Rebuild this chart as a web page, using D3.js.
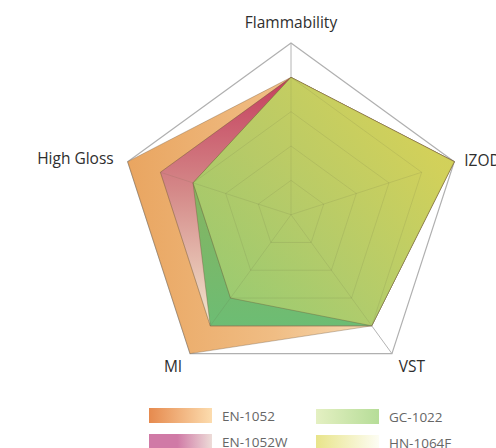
<!doctype html>
<html lang="en">
<head>
<meta charset="utf-8">
<title>radar</title>
<script src="https://cdnjs.cloudflare.com/ajax/libs/d3/7.8.5/d3.min.js"></script>
<style>
  html, body { margin: 0; padding: 0; background: #fff; }
  svg { display: block; font-family: "Open Sans", "DejaVu Sans", sans-serif; }
</style>
</head>
<body>
<svg id="chart" width="496" height="448"></svg>
<script>
// axes, clockwise from the top
const axes = ["Flammability", "IZOD", "VST", "MI", "High Gloss"];
const seriesNames = ["EN-1052", "EN-1052W", "GC-1022", "HN-1064F"];
const en1052  = [4, 5, 4, 5, 5];
const en1052w = [4, 5, 4, 4, 4];
const gc1022  = [4, 5, 4, 4, 3];
const hn1064f = [4, 5, 4, 3, 3];
const levels = [1, 2, 3, 4, 5];

const seriesValues = [en1052, en1052w, gc1022, hn1064f];

const cx = 291, cy = 214.7, R = 171.7;
const svg = d3.select("#chart");
const defs = svg.append("defs");

const r = d3.scaleLinear().domain([0, 5]).range([0, R]);
const angle = d3.scalePoint().domain(d3.range(axes.length + 1)).range([0, 2 * Math.PI]);

const radial = d3.lineRadial()
    .angle((d, i) => angle(i))
    .radius(d => r(d))
    .curve(d3.curveLinearClosed);

function pt(i, v) {
    const a = angle(i) - Math.PI / 2;
    return [cx + r(v) * Math.cos(a), cy + r(v) * Math.sin(a)];
}

// gradients for the areas (user space, relative to the centre)
function grad(id, x1, y1, x2, y2, stops) {
    const g = defs.append("linearGradient").attr("id", id)
        .attr("gradientUnits", "userSpaceOnUse")
        .attr("x1", x1).attr("y1", y1).attr("x2", x2).attr("y2", y2);
    stops.forEach(s => g.append("stop").attr("offset", s[0])
        .attr("stop-color", s[1]).attr("stop-opacity", s[2] == null ? 1 : s[2]));
}
grad("fillA", -165, 0, 105, 0, [[0, "#e9a560"], [0.55, "#f0bd84"], [1, "#fae2bf"]]);
grad("fillB", 0, -140, 0, 115, [[0, "#c43c5c"], [0.45, "#d48888"], [1, "#f3ead0"]]);
grad("fillC", 0, -60, 0, 115, [[0, "#8cb25c"], [1, "#6cbd74"]]);
grad("fillD", 140, -60, -90, 110, [[0, "#d8d35a", 0.92], [0.5, "#c2d06a", 0.8], [1, "#acd474", 0.6]]);

// legend gradients
function lgrad(id, c1, c2, mid) {
    const g = defs.append("linearGradient").attr("id", id);
    g.append("stop").attr("offset", 0).attr("stop-color", c1);
    if (mid) g.append("stop").attr("offset", mid).attr("stop-color", c1);
    g.append("stop").attr("offset", 1).attr("stop-color", c2);
}
lgrad("legA", "#e68a4e", "#fcdcae");
lgrad("legB", "#d07aa6", "#eddcd8", 0.45);
lgrad("legC", "#e4f0c2", "#b6dd98");
lgrad("legD", "#e8e48a", "#fdfdf4");

const fills = ["url(#fillA)", "url(#fillB)", "url(#fillC)", "url(#fillD)"];
const legFills = ["url(#legA)", "url(#legB)", "url(#legC)", "url(#legD)"];

const g = svg.append("g").attr("transform", `translate(${cx},${cy})`);

// spokes and outer ring under the areas
g.append("g").selectAll("line").data(axes).join("line")
    .attr("x1", 0).attr("y1", 0)
    .attr("x2", (d, i) => pt(i, 5)[0] - cx)
    .attr("y2", (d, i) => pt(i, 5)[1] - cy)
    .attr("stroke", "#b4b4b4").attr("stroke-width", 1);

g.append("path")
    .attr("d", radial(axes.map(() => 5)))
    .attr("fill", "none").attr("stroke", "#b0b0b0").attr("stroke-width", 1.2);

// areas
g.append("g").selectAll("path").data(seriesValues).join("path")
    .attr("d", d => radial(d))
    .attr("fill", (d, i) => fills[i])
    .attr("stroke", "rgba(110,80,50,0.45)")
    .attr("stroke-width", 0.8)
    .attr("stroke-linejoin", "round");

// faint grid on top of the areas
g.append("g").selectAll("path").data(levels.slice(0, 4)).join("path")
    .attr("d", l => radial(axes.map(() => l)))
    .attr("fill", "none").attr("stroke", "rgba(90,90,60,0.13)").attr("stroke-width", 1);
g.append("g").selectAll("line").data(axes).join("line")
    .attr("x1", 0).attr("y1", 0)
    .attr("x2", (d, i) => pt(i, 4)[0] - cx)
    .attr("y2", (d, i) => pt(i, 4)[1] - cy)
    .attr("stroke", "rgba(90,90,60,0.13)").attr("stroke-width", 1);

// axis labels
const labelPos = [
    {dx: 0, dy: -21, anchor: "middle"},
    {dx: 10, dy: -2, anchor: "start"},
    {dx: 20, dy: 12, anchor: "middle"},
    {dx: -17, dy: 12, anchor: "middle"},
    {dx: -14, dy: -4, anchor: "end"}
];
svg.append("g").selectAll("text").data(axes).join("text")
    .attr("x", (d, i) => pt(i, 5)[0] + labelPos[i].dx)
    .attr("y", (d, i) => pt(i, 5)[1] + labelPos[i].dy)
    .attr("text-anchor", (d, i) => labelPos[i].anchor)
    .attr("dominant-baseline", "central")
    .attr("font-size", 15.5)
    .attr("fill", "#2e2e2e")
    .text(d => d);

// legend, two columns
const leg = svg.append("g");
const items = leg.selectAll("g").data(seriesNames).join("g")
    .attr("transform", (d, i) => `translate(${i < 2 ? 149 : 316},${i < 2 ? 408 + i * 26 : 409 + (i - 2) * 26})`);
items.append("rect")
    .attr("width", 63).attr("height", 15)
    .attr("fill", (d, i) => legFills[i]);
items.append("text")
    .attr("x", 73).attr("y", 8)
    .attr("dominant-baseline", "central")
    .attr("font-size", 13.5).attr("fill", "#666")
    .text(d => d);
</script>
</body>
</html>
